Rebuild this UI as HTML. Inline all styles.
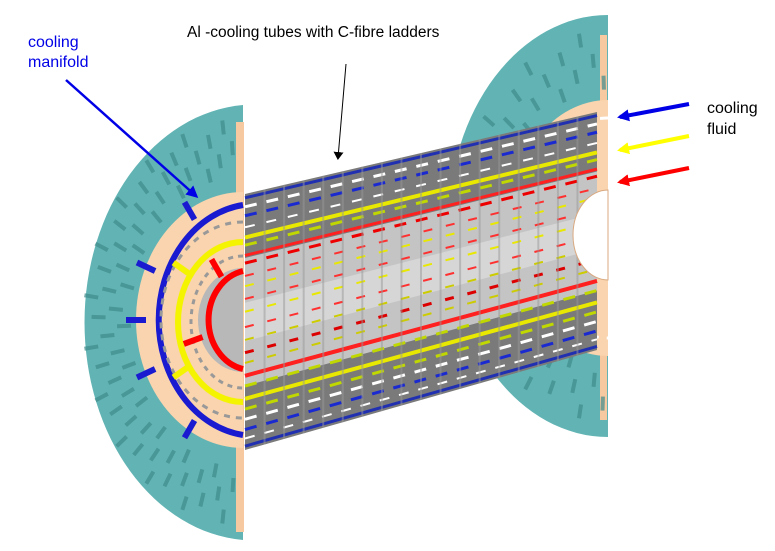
<!DOCTYPE html>
<html><head><meta charset="utf-8"><style>
html,body{margin:0;padding:0;background:#fff;}
svg{display:block;}
text{font-family:"Liberation Sans",Arial,sans-serif;}
</style></head><body>
<svg id="s" width="775" height="551" viewBox="0 0 775 551" xmlns="http://www.w3.org/2000/svg">
<defs>
<marker id="ay" markerWidth="12" markerHeight="12" refX="9" refY="6" orient="auto" markerUnits="userSpaceOnUse"><path d="M0,0 L12,6 L0,12 z" fill="#ffff00"/></marker>
<marker id="ar" markerWidth="12" markerHeight="12" refX="9" refY="6" orient="auto" markerUnits="userSpaceOnUse"><path d="M0,0 L12,6 L0,12 z" fill="#ff0000"/></marker>
<marker id="ab2" markerWidth="12" markerHeight="12" refX="9" refY="6" orient="auto" markerUnits="userSpaceOnUse"><path d="M0,0 L12,6 L0,12 z" fill="#0000e6"/></marker>
<marker id="ak" markerWidth="8" markerHeight="10" refX="6" refY="5" orient="auto" markerUnits="userSpaceOnUse"><path d="M0,0 L8,5 L0,10 z" fill="#000"/></marker>
</defs>
<!-- right disk -->
<path d="M608,15 A160,211 0 0 0 608,437 Z" fill="#62b4b4"/>
<rect x="600" y="35" width="7" height="385" fill="#f6c9a0"/>
<g id="rslots"></g>
<path d="M608,100 A100,128 0 0 0 608,356 Z" fill="#f9d4ae"/>
<path d="M608,118 A82,108 0 0 0 608,338" fill="none" stroke="#fff" stroke-width="3" stroke-dasharray="8,8"/>
<!-- cylinder -->
<g id="cyl"></g>
<path d="M608,190 A35,45 0 0 0 608,280 Z" fill="#fff" stroke="#d9a980" stroke-width="1"/>
<!-- left disk -->
<path d="M243,105 A170,218 0 0 0 243,540 Z" fill="#62b4b4"/>
<g id="lslots"></g>
<rect x="236" y="122" width="8" height="410" fill="#f6c9a0"/>
<path d="M243,192 A107,128 0 0 0 243,448 Z" fill="#f9d4ae"/>
<path d="M243,268 A45,52 0 0 0 243,372 Z" fill="#b8b8b8"/>
<path d="M243,205 A97,116 0 0 0 243,435" fill="none" stroke="#1a1ad0" stroke-width="6"/>
<path d="M243,222 A82,98 0 0 0 243,418" fill="none" stroke="#999" stroke-width="3" stroke-dasharray="6,6"/>
<path d="M243,242 A65,80 0 0 0 243,402" fill="none" stroke="#f4f400" stroke-width="6"/>
<path d="M243,256 A52,66 0 0 0 243,388" fill="none" stroke="#999" stroke-width="3" stroke-dasharray="5,5"/>
<path d="M243,271 A43,50 0 0 0 243,369" fill="none" stroke="#f00" stroke-width="6"/>
<g id="stubs"></g>
<!-- labels -->
<text x="28" y="47" font-size="16" fill="#0000e6">cooling</text>
<text x="28" y="67" font-size="16" fill="#0000e6">manifold</text>
<line x1="66" y1="80" x2="196" y2="196" stroke="#0000e6" stroke-width="2.5" marker-end="url(#ab2)"/>
<text x="187" y="37" font-size="15.5" fill="#000">Al -cooling tubes with C-fibre ladders</text>
<line x1="346" y1="64" x2="338" y2="158" stroke="#000" stroke-width="1" marker-end="url(#ak)"/>
<text x="707" y="113" font-size="16" fill="#000">cooling</text>
<text x="707" y="134" font-size="16" fill="#000">fluid</text>
<line x1="689" y1="104" x2="620" y2="117" stroke="#0000e6" stroke-width="4" marker-end="url(#ab2)"/>
<line x1="689" y1="136" x2="620" y2="150" stroke="#ffff00" stroke-width="4" marker-end="url(#ay)"/>
<line x1="689" y1="168" x2="620" y2="182" stroke="#ff0000" stroke-width="4" marker-end="url(#ar)"/>
</svg>
<script>
var NS="http://www.w3.org/2000/svg";
function el(p,t,a){var e=document.createElementNS(NS,t);for(var k in a)e.setAttribute(k,a[k]);p.appendChild(e);return e;}
var cyl=document.getElementById("cyl");
function P(t,u){var x=245+(597-245)*u; var cy=322+(231-322)*u; var h=128+(119-128)*u; return [x,cy+h*t];}
function band(t1,t2,fill){var a=P(t1,0),b=P(t1,1),c=P(t2,1),d=P(t2,0);
 el(cyl,"path",{d:"M"+a+" L"+b+" L"+c+" L"+d+"Z",fill:fill});}
band(-1,1,"#7a7a7a");
band(-0.5,0.5,"#c4c4c4");
band(-0.15,0.15,"#d6d6d6");
function line(t,col,w,dash){var a=P(t,0),b=P(t,1);
 el(cyl,"line",{x1:a[0],y1:a[1],x2:b[0],y2:b[1],stroke:col,"stroke-width":w,"stroke-dasharray":dash||""});}
var spec=[[-0.97,"#2030b0",3],[-0.9,"#fff",3,"12,10"],[-0.83,"#1a2ad0",3,"12,10"],[-0.74,"#fff",2,"10,12"],[-0.66,"#e8e800",4],[-0.6,"#c0d800",3,"12,10"],[-0.52,"#ff2020",3],[-0.46,"#e00",3,"12,10"],
[-0.36,"#ff3030",2,"9,14"],[-0.28,"#e8e800",2,"9,14"],[-0.18,"#ff3030",2,"9,14"],[-0.08,"#e8e800",2,"9,14"],[0.04,"#ff3030",2,"9,14"],[0.14,"#cc0",2,"9,14"],[0.24,"#d00",3,"9,14"],[0.32,"#cc0",2,"9,14"],
[0.42,"#ff2020",4],[0.5,"#c0d800",3,"12,10"],[0.6,"#e8e800",4],[0.68,"#c0d800",3,"12,10"],[0.76,"#fff",3,"12,10"],[0.84,"#1a2ad0",3,"12,10"],[0.91,"#fff",2,"10,10"],[0.97,"#2030b0",3]];
spec.forEach(function(s){line(s[0],s[1],s[2],s[3]);});
for(var i=1;i<18;i++){var u=i/18;var a=P(-1,u),b=P(1,u);el(cyl,"line",{x1:a[0],y1:a[1],x2:b[0],y2:b[1],stroke:"#999","stroke-width":2,opacity:0.5});}
function slots(gid,cx,cy,r1,r2,rx,ry,n){var g=document.getElementById(gid);
 for(var i=0;i<n;i++){var ang=Math.PI/2+Math.PI*(i+0.5)/n;var f=r1+(r2-r1)*((i*7)%5)/5;
  var x=cx+Math.cos(ang)*rx*f,y=cy-Math.sin(ang)*ry*f;
  var deg=-Math.atan2(Math.sin(ang)*ry,Math.cos(ang)*rx)*180/Math.PI;
  el(g,"rect",{x:x-2,y:y-7,width:4,height:14,fill:"#3f8a8a",opacity:0.7,transform:"rotate("+(deg+90)+" "+x+" "+y+")"});}}
slots("lslots",243,322,0.7,0.95,170,218,60);
slots("rslots",608,226,0.68,0.95,160,211,40);
var st=document.getElementById("stubs");
[[-60,97,116,"#1a1ad0"],[-25,97,116,"#1a1ad0"],[0,97,116,"#1a1ad0"],[25,97,116,"#1a1ad0"],[60,97,116,"#1a1ad0"],[-35,65,80,"#f4f400"],[35,65,80,"#f4f400"],[-60,43,50,"#f00"],[20,43,50,"#f00"]].forEach(function(s){
 var a=(180+s[0])*Math.PI/180;var x1=243+Math.cos(a)*s[1],y1=320-Math.sin(a)*s[2];var x2=243+Math.cos(a)*(s[1]+20),y2=320-Math.sin(a)*(s[2]+20);
 el(st,"line",{x1:x1,y1:y1,x2:x2,y2:y2,stroke:s[3],"stroke-width":6});});
</script>
</body></html>
